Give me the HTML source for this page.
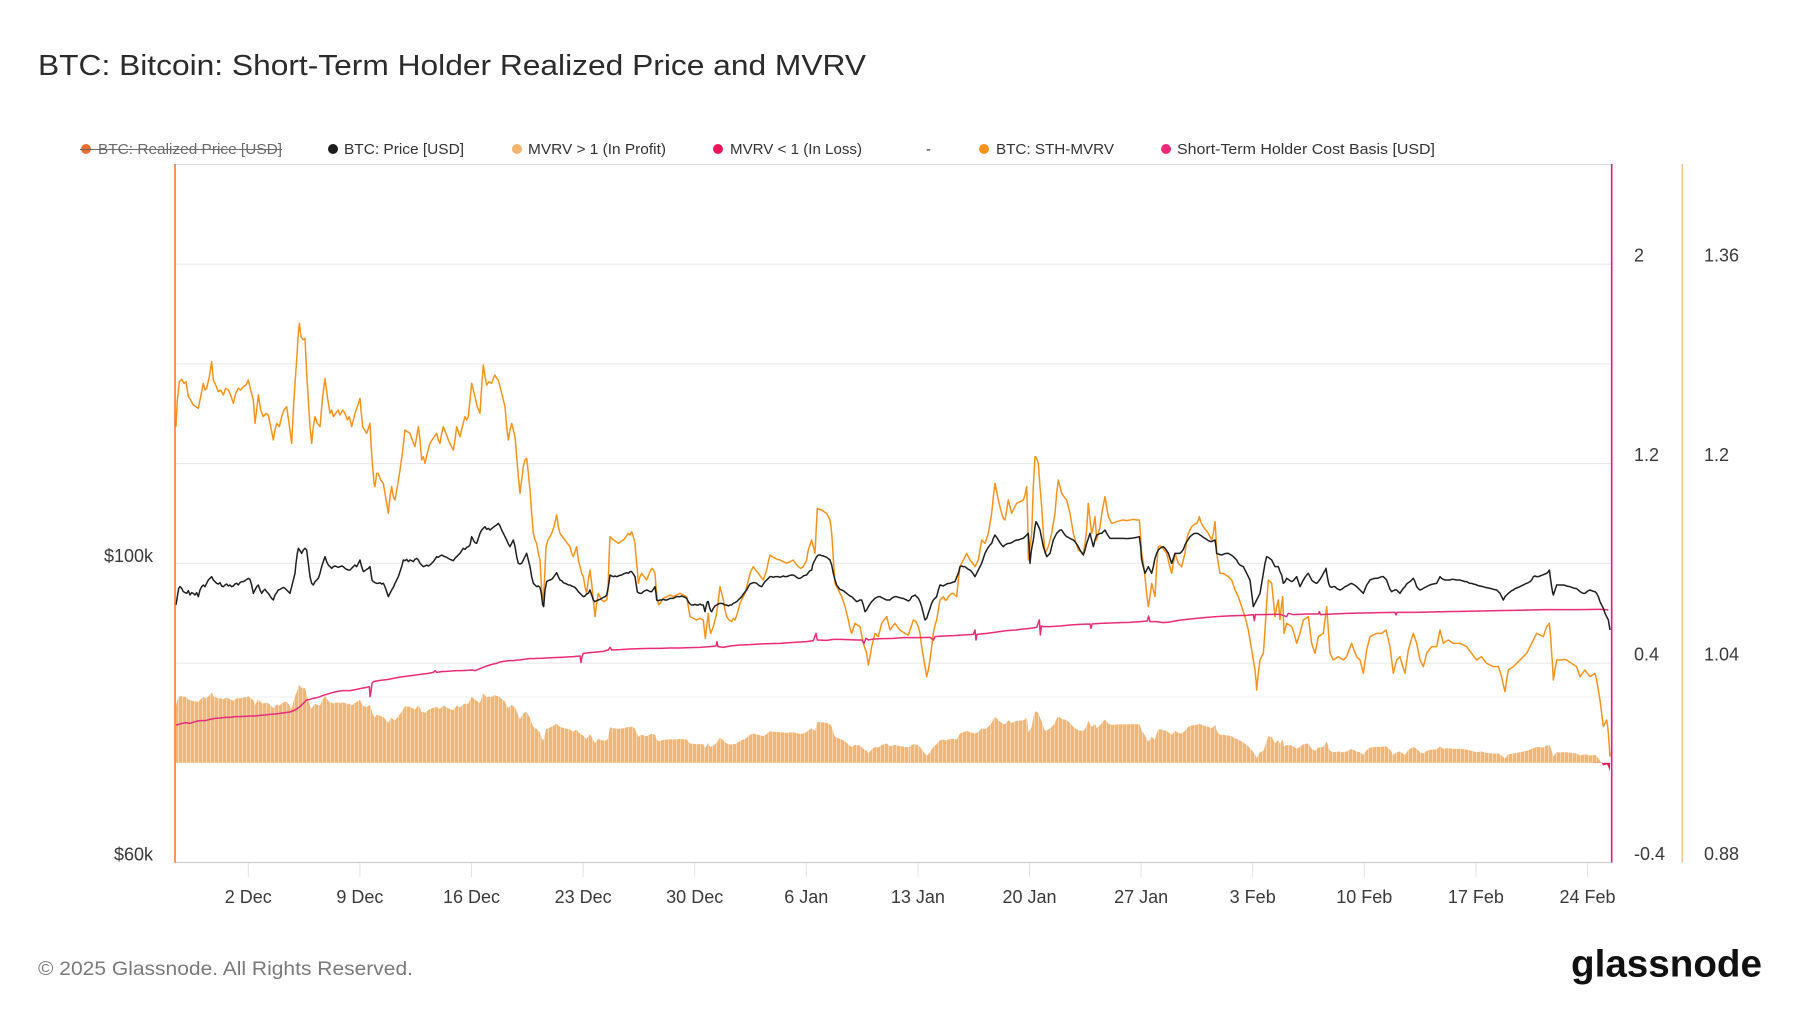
<!DOCTYPE html>
<html><head><meta charset="utf-8"><style>
html,body{margin:0;padding:0;background:#fff;}
svg{display:block;font-family:"Liberation Sans",Arial,sans-serif;}
</style></head><body>
<svg width="1800" height="1013" viewBox="0 0 1800 1013" xmlns="http://www.w3.org/2000/svg">
<defs>
<pattern id="bp" width="12" height="30" patternUnits="userSpaceOnUse"><rect width="12" height="30" fill="#f3b574"/><rect x="0" width="3" height="30" fill="#f8d6ae"/></pattern>
<clipPath id="above"><rect x="175" y="164" width="1437" height="598.8"/></clipPath>
<clipPath id="below"><rect x="175" y="762.8" width="1437" height="100"/></clipPath>
</defs>
<rect width="1800" height="1013" fill="#fff"/>

<text x="38" y="75" font-size="29" fill="#2b2b2b" textLength="828" lengthAdjust="spacingAndGlyphs">BTC: Bitcoin: Short-Term Holder Realized Price and MVRV</text>

<!-- legend -->
<g font-size="14.5" fill="#333">
<circle cx="86" cy="149" r="5" fill="#ee6e30"/>
<text x="98" y="154" fill="#6b6b6b" textLength="184" lengthAdjust="spacingAndGlyphs">BTC: Realized Price [USD]</text>
<line x1="80" y1="149.5" x2="282" y2="149.5" stroke="#6b6b6b" stroke-width="1"/>
<circle cx="333" cy="149" r="5" fill="#1c1c1c"/>
<text x="344" y="154" textLength="120" lengthAdjust="spacingAndGlyphs">BTC: Price [USD]</text>
<circle cx="517" cy="149" r="5" fill="#f2b46e"/>
<text x="528" y="154" textLength="138" lengthAdjust="spacingAndGlyphs">MVRV &gt; 1 (In Profit)</text>
<circle cx="718" cy="149" r="5" fill="#f0145a"/>
<text x="730" y="154" textLength="132" lengthAdjust="spacingAndGlyphs">MVRV &lt; 1 (In Loss)</text>
<text x="926" y="154">-</text>
<circle cx="984" cy="149" r="5" fill="#f7931a"/>
<text x="996" y="154" textLength="118" lengthAdjust="spacingAndGlyphs">BTC: STH-MVRV</text>
<circle cx="1166" cy="149" r="5" fill="#f0287a"/>
<text x="1177" y="154" textLength="258" lengthAdjust="spacingAndGlyphs">Short-Term Holder Cost Basis [USD]</text>
</g>

<!-- grid -->
<g stroke="#e6e6e6" stroke-width="1">
<line x1="175" y1="164.5" x2="1612" y2="164.5" stroke="#dcdcdc"/>
<line x1="175" y1="264.2" x2="1612" y2="264.2"/>
<line x1="175" y1="363.9" x2="1612" y2="363.9"/>
<line x1="175" y1="463.6" x2="1612" y2="463.6"/>
<line x1="175" y1="563.3" x2="1612" y2="563.3"/>
<line x1="175" y1="663.1" x2="1612" y2="663.1"/>
<line x1="175" y1="697" x2="1612" y2="697" stroke="#ececec"/>
<line x1="175" y1="762.8" x2="1612" y2="762.8"/>
</g>

<!-- bars -->
<g clip-path="url(#above)" fill="url(#bp)">
<polygon transform="translate(170,680.22) scale(0.333333,0.0666667)" points="18,380 22,300 28,245 35,238 42,250 48,245 55,290 62,300 70,315 78,320 85,325 92,290 100,250 105,270 110,265 118,230 125,185 130,240 137,255 145,275 152,270 160,285 167,265 175,270 182,285 190,310 197,280 205,265 212,270 220,260 228,255 235,240 242,270 250,300 255,370 260,330 265,285 272,330 280,350 288,340 295,345 302,380 310,420 315,390 320,370 328,380 335,350 342,330 350,320 357,370 365,430 370,330 375,250 380,180 385,100 388,70 393,110 400,120 405,115 410,220 415,300 420,380 425,430 430,380 435,350 442,370 450,380 457,300 465,235 472,290 480,340 485,330 490,350 497,340 505,330 510,345 518,330 525,340 532,360 538,350 545,380 550,360 555,340 562,320 570,295 574,340 578,380 584,390 590,400 595,385 600,370 603,430 607,490 612,550 615,560 620,520 625,520 632,540 640,550 645,580 650,610 655,640 660,590 665,560 670,590 675,600 682,560 690,510 697,460 705,390 712,395 720,400 727,420 735,440 740,410 745,380 750,420 755,480 760,470 765,490 772,460 780,430 786,420 793,410 800,400 805,420 810,430 815,400 820,380 828,400 835,420 842,435 850,450 855,420 860,380 865,395 870,410 877,380 885,350 890,360 895,350 900,300 905,250 910,270 915,290 922,320 930,340 935,260 940,195 945,230 950,255 957,245 965,250 970,235 975,225 980,235 985,240 990,260 995,280 1000,300 1005,320 1010,380 1015,420 1020,390 1025,370 1030,390 1035,410 1040,470 1045,530 1050,580 1055,540 1060,500 1065,480 1070,475 1075,520 1080,570 1085,640 1090,700 1095,720 1100,730 1105,760 1110,780 1110,1239 18,1239"/>
<polygon transform="translate(540,680.22) scale(0.333333,0.0666667)" points="0,780 5,870 9,905 13,850 18,740 24,720 30,710 35,700 42,680 50,645 55,680 60,700 67,710 75,720 82,730 90,740 95,760 100,770 105,755 110,740 115,780 120,800 125,820 130,830 135,860 140,880 145,840 150,810 155,850 160,900 165,950 170,910 175,880 180,890 185,900 192,905 200,900 204,870 207,780 210,710 215,715 220,720 228,725 235,730 242,725 250,720 258,710 265,700 270,705 275,695 280,710 285,730 288,770 292,810 295,850 300,830 305,820 312,830 320,840 328,820 335,805 340,810 345,820 348,860 352,900 356,915 360,910 370,895 380,890 390,885 400,890 410,885 420,880 430,885 440,890 445,920 450,950 460,955 470,960 480,955 490,960 493,990 496,1015 500,980 505,940 508,980 512,1000 516,990 520,980 525,960 530,940 535,900 540,860 545,880 550,900 555,930 560,950 567,960 575,965 580,955 585,960 592,940 600,910 607,895 615,880 620,860 625,840 632,815 640,800 647,810 655,820 662,830 670,840 675,825 680,810 685,785 690,765 697,770 705,775 712,778 720,780 730,785 740,790 750,785 760,780 767,790 775,800 782,805 790,800 795,790 800,780 803,760 805,750 810,735 815,720 820,740 825,760 828,700 832,625 838,628 845,630 852,635 860,640 865,650 870,660 873,680 875,700 878,740 880,780 883,820 885,850 890,860 895,870 900,880 905,890 910,905 915,920 920,940 925,960 930,985 935,1000 940,985 945,970 952,975 960,980 965,1005 970,1030 975,1045 980,1060 983,1080 985,1095 990,1070 995,1040 1000,1020 1005,1000 1010,1005 1015,1010 1020,990 1025,970 1032,960 1040,950 1045,970 1050,990 1057,980 1065,970 1072,980 1080,990 1087,995 1095,1000 1100,1003 1105,1005 1110,990 1110,1239 0,1239"/>
<polygon transform="translate(910,680.22) scale(0.333333,0.0666667)" points="0,990 5,975 10,960 18,965 25,980 30,1000 35,1040 40,1070 45,1100 50,1130 55,1110 60,1080 65,1040 70,1000 75,975 80,960 85,930 90,900 95,895 100,890 105,900 110,900 115,890 120,885 125,880 130,880 135,885 140,890 145,840 150,800 155,790 160,780 165,770 170,760 175,770 180,780 188,790 195,800 200,790 205,780 210,750 215,720 220,725 225,730 230,715 235,700 240,670 245,640 250,590 255,550 260,575 265,600 270,620 275,640 280,655 285,660 290,630 295,600 300,620 305,640 312,625 320,610 330,605 340,600 345,585 350,560 353,650 355,780 360,740 365,700 370,560 375,470 380,475 385,490 390,560 395,620 400,700 405,760 410,750 415,740 420,720 425,700 430,670 435,640 440,580 445,540 450,560 455,580 462,590 470,600 475,620 480,640 485,670 490,700 497,725 505,750 512,755 520,760 525,730 530,690 533,640 535,610 540,660 545,700 550,680 555,650 558,690 560,720 565,700 570,680 577,630 585,590 590,620 595,650 600,660 605,670 612,668 620,665 630,662 640,660 650,662 660,660 670,658 680,660 688,660 692,710 695,760 700,790 705,830 710,880 715,920 720,890 725,850 730,870 735,890 740,800 745,740 750,738 755,740 762,750 770,760 777,790 785,820 790,790 795,760 800,775 805,790 810,795 815,800 820,780 825,760 830,720 835,700 840,690 845,680 850,676 855,672 860,670 865,660 868,650 872,665 880,680 887,690 895,700 900,710 905,720 910,700 915,665 918,710 920,760 925,790 930,820 935,820 940,820 947,825 955,830 960,835 965,840 970,855 975,870 980,880 985,890 990,905 995,920 1000,935 1005,950 1010,970 1015,990 1020,1020 1025,1050 1030,1080 1035,1110 1038,1140 1040,1170 1045,1120 1050,1080 1055,1070 1060,1060 1063,1020 1065,990 1070,910 1075,840 1080,845 1085,850 1090,900 1095,950 1100,920 1105,900 1110,960 1110,1239 0,1239"/>
<polygon transform="translate(1280,680.22) scale(0.333333,0.0666667)" points="0,960 4,920 8,890 12,1000 16,985 20,970 28,975 35,980 42,1000 50,1030 55,1015 60,1000 65,980 70,960 77,955 85,950 90,990 95,1030 100,1045 105,1060 110,1035 115,1010 122,1005 130,1000 135,960 140,920 145,990 150,1060 155,1070 160,1080 167,1075 175,1070 182,1075 190,1080 195,1075 200,1070 207,1050 215,1030 222,1050 230,1070 235,1075 240,1080 245,1100 250,1120 255,1085 260,1050 265,1030 270,1010 280,1005 290,1000 298,1000 305,1000 312,995 318,990 324,1015 330,1040 335,1080 340,1120 345,1100 350,1080 355,1075 360,1070 367,1095 375,1120 380,1085 385,1050 392,1025 400,1000 405,1015 410,1030 415,1055 420,1080 425,1090 430,1100 435,1080 440,1060 447,1050 455,1040 462,1040 470,1040 475,1015 480,990 485,1010 490,1030 497,1025 505,1020 512,1025 520,1030 530,1030 540,1030 550,1035 560,1040 567,1050 575,1060 582,1070 590,1080 597,1075 605,1070 612,1080 620,1090 630,1095 640,1100 647,1100 655,1100 660,1115 665,1130 670,1155 675,1175 680,1140 685,1110 692,1105 700,1100 705,1095 710,1090 715,1085 720,1080 730,1070 740,1060 750,1040 760,1020 765,1010 770,1000 780,1005 790,1010 795,995 800,980 805,975 808,970 812,1010 815,1060 818,1100 820,1140 825,1110 830,1080 837,1080 845,1080 852,1078 860,1080 867,1085 875,1090 882,1095 890,1100 895,1115 900,1130 907,1120 915,1110 922,1120 930,1130 937,1125 945,1120 950,1140 955,1170 960,1200 965,1240 968,1265 970,1280 975,1270 980,1260 983,1280 985,1300 988,1340 990,1370 990,1239 0,1239"/>
</g>
<g clip-path="url(#below)" fill="#f0145a">
<polygon transform="translate(1280,680.22) scale(0.333333,0.0666667)" points="940,1239 945,1120 950,1140 955,1170 960,1200 965,1240 968,1265 970,1280 975,1270 980,1260 983,1280 985,1300 988,1340 990,1370 990,1239"/>
</g>

<!-- orange STH-MVRV line -->
<g fill="none" stroke="#f7931a" stroke-width="1.5" stroke-linejoin="round">
<polyline vector-effect="non-scaling-stroke" transform="translate(170,300) scale(0.333333)" points="18,380 22,300 28,245 35,238 42,250 48,245 55,290 62,300 70,315 78,320 85,325 92,290 100,250 105,270 110,265 118,230 125,185 130,240 137,255 145,275 152,270 160,285 167,265 175,270 182,285 190,310 197,280 205,265 212,270 220,260 228,255 235,240 242,270 250,300 255,370 260,330 265,285 272,330 280,350 288,340 295,345 302,380 310,420 315,390 320,370 328,380 335,350 342,330 350,320 357,370 365,430 370,330 375,250 380,180 385,100 388,70 393,110 400,120 405,115 410,220 415,300 420,380 425,430 430,380 435,350 442,370 450,380 457,300 465,235 472,290 480,340 485,330 490,350 497,340 505,330 510,345 518,330 525,340 532,360 538,350 545,380 550,360 555,340 562,320 570,295 574,340 578,380 584,390 590,400 595,385 600,370 603,430 607,490 612,550 615,560 620,520 625,520 632,540 640,550 645,580 650,610 655,640 660,590 665,560 670,590 675,600 682,560 690,510 697,460 705,390 712,395 720,400 727,420 735,440 740,410 745,380 750,420 755,480 760,470 765,490 772,460 780,430 786,420 793,410 800,400 805,420 810,430 815,400 820,380 828,400 835,420 842,435 850,450 855,420 860,380 865,395 870,410 877,380 885,350 890,360 895,350 900,300 905,250 910,270 915,290 922,320 930,340 935,260 940,195 945,230 950,255 957,245 965,250 970,235 975,225 980,235 985,240 990,260 995,280 1000,300 1005,320 1010,380 1015,420 1020,390 1025,370 1030,390 1035,410 1040,470 1045,530 1050,580 1055,540 1060,500 1065,480 1070,475 1075,520 1080,570 1085,640 1090,700 1095,720 1100,730 1105,760 1110,780"/>
<polyline vector-effect="non-scaling-stroke" transform="translate(540,300) scale(0.333333)" points="0,780 5,870 9,905 13,850 18,740 24,720 30,710 35,700 42,680 50,645 55,680 60,700 67,710 75,720 82,730 90,740 95,760 100,770 105,755 110,740 115,780 120,800 125,820 130,830 135,860 140,880 145,840 150,810 155,850 160,900 165,950 170,910 175,880 180,890 185,900 192,905 200,900 204,870 207,780 210,710 215,715 220,720 228,725 235,730 242,725 250,720 258,710 265,700 270,705 275,695 280,710 285,730 288,770 292,810 295,850 300,830 305,820 312,830 320,840 328,820 335,805 340,810 345,820 348,860 352,900 356,915 360,910 370,895 380,890 390,885 400,890 410,885 420,880 430,885 440,890 445,920 450,950 460,955 470,960 480,955 490,960 493,990 496,1015 500,980 505,940 508,980 512,1000 516,990 520,980 525,960 530,940 535,900 540,860 545,880 550,900 555,930 560,950 567,960 575,965 580,955 585,960 592,940 600,910 607,895 615,880 620,860 625,840 632,815 640,800 647,810 655,820 662,830 670,840 675,825 680,810 685,785 690,765 697,770 705,775 712,778 720,780 730,785 740,790 750,785 760,780 767,790 775,800 782,805 790,800 795,790 800,780 803,760 805,750 810,735 815,720 820,740 825,760 828,700 832,625 838,628 845,630 852,635 860,640 865,650 870,660 873,680 875,700 878,740 880,780 883,820 885,850 890,860 895,870 900,880 905,890 910,905 915,920 920,940 925,960 930,985 935,1000 940,985 945,970 952,975 960,980 965,1005 970,1030 975,1045 980,1060 983,1080 985,1095 990,1070 995,1040 1000,1020 1005,1000 1010,1005 1015,1010 1020,990 1025,970 1032,960 1040,950 1045,970 1050,990 1057,980 1065,970 1072,980 1080,990 1087,995 1095,1000 1100,1003 1105,1005 1110,990"/>
<polyline vector-effect="non-scaling-stroke" transform="translate(910,300) scale(0.333333)" points="0,990 5,975 10,960 18,965 25,980 30,1000 35,1040 40,1070 45,1100 50,1130 55,1110 60,1080 65,1040 70,1000 75,975 80,960 85,930 90,900 95,895 100,890 105,900 110,900 115,890 120,885 125,880 130,880 135,885 140,890 145,840 150,800 155,790 160,780 165,770 170,760 175,770 180,780 188,790 195,800 200,790 205,780 210,750 215,720 220,725 225,730 230,715 235,700 240,670 245,640 250,590 255,550 260,575 265,600 270,620 275,640 280,655 285,660 290,630 295,600 300,620 305,640 312,625 320,610 330,605 340,600 345,585 350,560 353,650 355,780 360,740 365,700 370,560 375,470 380,475 385,490 390,560 395,620 400,700 405,760 410,750 415,740 420,720 425,700 430,670 435,640 440,580 445,540 450,560 455,580 462,590 470,600 475,620 480,640 485,670 490,700 497,725 505,750 512,755 520,760 525,730 530,690 533,640 535,610 540,660 545,700 550,680 555,650 558,690 560,720 565,700 570,680 577,630 585,590 590,620 595,650 600,660 605,670 612,668 620,665 630,662 640,660 650,662 660,660 670,658 680,660 688,660 692,710 695,760 700,790 705,830 710,880 715,920 720,890 725,850 730,870 735,890 740,800 745,740 750,738 755,740 762,750 770,760 777,790 785,820 790,790 795,760 800,775 805,790 810,795 815,800 820,780 825,760 830,720 835,700 840,690 845,680 850,676 855,672 860,670 865,660 868,650 872,665 880,680 887,690 895,700 900,710 905,720 910,700 915,665 918,710 920,760 925,790 930,820 935,820 940,820 947,825 955,830 960,835 965,840 970,855 975,870 980,880 985,890 990,905 995,920 1000,935 1005,950 1010,970 1015,990 1020,1020 1025,1050 1030,1080 1035,1110 1038,1140 1040,1170 1045,1120 1050,1080 1055,1070 1060,1060 1063,1020 1065,990 1070,910 1075,840 1080,845 1085,850 1090,900 1095,950 1100,920 1105,900 1110,960"/>
<polyline vector-effect="non-scaling-stroke" transform="translate(1280,300) scale(0.333333)" points="0,960 4,920 8,890 12,1000 16,985 20,970 28,975 35,980 42,1000 50,1030 55,1015 60,1000 65,980 70,960 77,955 85,950 90,990 95,1030 100,1045 105,1060 110,1035 115,1010 122,1005 130,1000 135,960 140,920 145,990 150,1060 155,1070 160,1080 167,1075 175,1070 182,1075 190,1080 195,1075 200,1070 207,1050 215,1030 222,1050 230,1070 235,1075 240,1080 245,1100 250,1120 255,1085 260,1050 265,1030 270,1010 280,1005 290,1000 298,1000 305,1000 312,995 318,990 324,1015 330,1040 335,1080 340,1120 345,1100 350,1080 355,1075 360,1070 367,1095 375,1120 380,1085 385,1050 392,1025 400,1000 405,1015 410,1030 415,1055 420,1080 425,1090 430,1100 435,1080 440,1060 447,1050 455,1040 462,1040 470,1040 475,1015 480,990 485,1010 490,1030 497,1025 505,1020 512,1025 520,1030 530,1030 540,1030 550,1035 560,1040 567,1050 575,1060 582,1070 590,1080 597,1075 605,1070 612,1080 620,1090 630,1095 640,1100 647,1100 655,1100 660,1115 665,1130 670,1155 675,1175 680,1140 685,1110 692,1105 700,1100 705,1095 710,1090 715,1085 720,1080 730,1070 740,1060 750,1040 760,1020 765,1010 770,1000 780,1005 790,1010 795,995 800,980 805,975 808,970 812,1010 815,1060 818,1100 820,1140 825,1110 830,1080 837,1080 845,1080 852,1078 860,1080 867,1085 875,1090 882,1095 890,1100 895,1115 900,1130 907,1120 915,1110 922,1120 930,1130 937,1125 945,1120 950,1140 955,1170 960,1200 965,1240 968,1265 970,1280 975,1270 980,1260 983,1280 985,1300 988,1340 990,1370"/>
</g>

<!-- pink cost basis line -->
<g fill="none" stroke="#ec2a78" stroke-width="1.5" stroke-linejoin="round">
<polyline vector-effect="non-scaling-stroke" transform="translate(170,300) scale(0.333333)" points="18,1275 30,1272 45,1268 60,1270 75,1265 90,1262 105,1262 120,1258 135,1255 150,1254 165,1252 180,1252 195,1250 210,1250 225,1249 240,1248 255,1248 270,1246 285,1245 300,1243 315,1242 330,1240 345,1238 360,1236 375,1230 390,1220 400,1210 410,1200 420,1198 430,1195 440,1193 450,1190 460,1186 470,1183 480,1180 490,1177 500,1175 510,1173 520,1172 530,1172 540,1172 550,1170 560,1168 570,1166 580,1164 590,1162 598,1160 600,1190 603,1175 606,1150 610,1145 625,1142 640,1140 655,1138 670,1135 685,1132 700,1130 715,1128 730,1126 745,1124 760,1122 775,1120 790,1117 795,1112 800,1117 815,1115 830,1114 845,1113 860,1112 875,1112 890,1111 905,1110 915,1112 925,1108 940,1102 950,1098 960,1095 970,1092 980,1090 990,1086 1000,1084 1010,1083 1020,1082 1030,1082 1040,1080 1050,1080 1060,1078 1070,1077 1080,1076 1090,1076 1100,1075 1110,1075"/>
<polyline vector-effect="non-scaling-stroke" transform="translate(540,300) scale(0.333333)" points="0,1075 20,1074 40,1073 60,1072 80,1071 100,1070 120,1068 123,1088 126,1070 130,1060 150,1058 170,1056 190,1054 205,1050 210,1042 215,1050 240,1049 270,1047 300,1046 330,1045 360,1045 390,1044 420,1044 450,1043 480,1042 510,1040 528,1038 531,1025 534,1040 550,1042 570,1038 600,1035 630,1034 660,1032 690,1031 720,1030 750,1028 780,1026 800,1025 820,1022 828,1000 832,1020 860,1021 880,1018 900,1018 920,1019 950,1020 965,1020 972,1030 978,1015 985,1020 1000,1017 1030,1016 1060,1015 1090,1013 1110,1013"/>
<polyline vector-effect="non-scaling-stroke" transform="translate(910,300) scale(0.333333)" points="0,1013 30,1013 60,1012 70,1020 75,1010 100,1008 130,1007 160,1005 190,1003 195,990 198,1020 201,1003 230,1000 260,996 290,992 320,990 330,988 360,985 380,982 388,960 391,1005 394,978 400,980 420,980 450,978 480,975 510,973 540,972 543,985 546,972 570,970 600,969 630,968 660,967 690,965 712,963 716,948 720,965 740,965 760,968 780,966 800,962 830,958 860,955 890,952 920,950 950,948 980,947 1010,946 1030,944 1033,962 1036,944 1060,944 1090,943 1110,943"/>
<polyline vector-effect="non-scaling-stroke" transform="translate(1280,300) scale(0.333333)" points="0,943 20,950 25,940 40,944 80,942 115,942 118,935 121,944 160,942 200,940 250,939 300,938 345,937 348,945 351,937 400,937 450,936 500,935 550,934 600,933 650,932 700,931 750,930 800,929 850,929 900,929 950,928 970,928 985,930"/>
</g>

<!-- black price line -->
<g fill="none" stroke="#1f1f1f" stroke-width="1.5" stroke-linejoin="round">
<polyline vector-effect="non-scaling-stroke" transform="translate(170,300) scale(0.333333)" points="18,915 22,890 26,865 30,860 35,865 40,875 45,878 50,880 55,872 60,885 65,878 70,880 75,885 80,878 85,890 90,870 95,860 100,855 105,860 110,850 115,840 120,835 125,830 130,840 135,845 140,850 145,852 150,848 155,858 160,860 165,855 170,852 175,858 180,855 185,860 190,858 195,852 200,850 205,855 210,848 215,845 220,845 225,842 230,838 235,835 240,838 245,855 250,880 255,870 260,860 265,855 270,870 275,880 280,872 285,868 290,875 295,880 300,888 305,895 310,900 315,885 320,878 325,870 330,868 335,865 340,862 345,865 350,870 355,875 360,880 365,860 370,840 375,820 378,790 382,760 385,745 390,752 395,760 400,750 405,745 410,750 415,790 420,830 425,850 430,855 435,845 440,840 445,835 450,820 455,800 460,785 465,770 470,785 475,795 480,800 485,805 490,800 495,798 500,800 505,802 510,800 515,798 520,800 525,805 530,808 535,810 540,810 545,805 550,800 555,795 560,800 565,790 570,780 575,800 580,815 585,812 590,808 595,805 600,800 603,820 606,840 610,845 615,848 620,850 625,850 630,848 635,852 640,850 645,860 650,875 655,890 660,880 665,870 670,862 675,850 680,840 685,830 690,815 695,800 700,780 705,782 710,778 715,785 720,780 725,782 730,785 735,778 740,775 745,780 750,790 755,795 760,800 765,798 770,795 775,798 780,795 785,790 790,785 795,778 800,770 805,772 810,768 815,765 820,768 825,770 830,772 835,775 840,778 845,780 850,782 855,775 860,770 865,765 870,760 875,752 880,745 885,748 890,742 895,740 900,735 905,710 910,720 915,728 920,730 925,715 930,700 935,690 940,685 945,680 950,688 955,685 960,690 965,686 970,682 975,678 980,675 985,670 990,678 995,690 1000,700 1005,710 1010,720 1015,732 1020,740 1025,730 1030,720 1035,740 1040,770 1045,790 1050,792 1055,790 1060,780 1065,770 1070,760 1075,780 1080,800 1085,830 1090,850 1095,855 1100,860 1105,858 1110,862"/>
<polyline vector-effect="non-scaling-stroke" transform="translate(540,300) scale(0.333333)" points="0,862 4,880 8,915 11,920 15,870 20,845 25,842 30,840 35,838 40,832 45,825 50,818 55,830 60,840 65,842 70,848 75,850 80,852 85,855 90,855 95,858 100,860 105,862 110,868 115,875 120,880 125,885 130,890 135,888 140,882 145,880 150,870 155,885 160,900 165,905 170,902 175,900 180,898 185,895 190,892 195,890 200,885 205,860 208,840 210,825 215,828 220,830 225,828 230,830 235,828 240,826 245,825 250,822 255,820 260,818 265,820 270,815 275,815 280,822 285,830 288,850 292,875 295,878 300,880 305,880 310,875 315,872 320,870 325,872 330,875 335,875 340,868 345,860 348,880 350,900 355,902 360,900 365,900 370,898 375,900 380,900 385,898 390,895 395,895 400,895 405,892 410,890 415,890 420,890 425,888 430,890 435,892 440,895 445,905 450,912 455,915 460,915 465,913 470,915 475,915 480,912 485,915 490,915 493,928 495,935 498,920 502,905 505,905 508,920 512,932 515,935 520,925 525,918 530,915 535,912 540,910 545,910 550,912 555,915 560,915 565,918 570,915 575,915 580,910 585,908 590,905 595,900 600,895 605,890 610,882 615,876 620,870 625,860 630,852 635,850 640,848 645,848 650,850 655,855 660,858 665,860 670,852 675,845 680,840 685,835 690,830 695,830 700,832 705,830 710,830 715,830 720,832 725,830 730,828 735,830 740,830 745,828 750,826 755,825 760,825 765,828 770,832 775,835 780,835 785,832 790,828 795,826 800,825 805,818 810,812 815,810 818,795 822,785 825,780 830,770 835,765 840,765 845,767 850,768 855,770 860,772 865,776 870,780 875,795 880,820 885,840 890,855 895,862 900,868 905,870 910,872 915,876 920,880 925,884 930,888 935,890 940,895 945,900 950,905 955,903 960,900 965,900 970,915 975,935 980,930 985,920 990,912 995,905 1000,900 1005,895 1010,892 1015,890 1020,890 1025,893 1030,895 1035,898 1040,900 1045,900 1050,900 1055,895 1060,892 1065,890 1070,890 1075,892 1080,893 1085,895 1090,895 1095,898 1100,900 1105,903 1110,900"/>
<polyline vector-effect="non-scaling-stroke" transform="translate(910,300) scale(0.333333)" points="0,900 5,890 10,888 15,885 20,890 25,895 30,905 35,920 40,940 45,960 50,955 55,940 60,925 65,910 70,900 75,895 80,890 85,870 90,855 95,856 100,858 105,855 110,852 115,850 120,850 125,848 130,846 135,845 140,832 145,820 150,800 155,798 160,800 165,800 170,804 175,808 180,810 185,815 190,822 195,830 200,820 205,810 210,800 215,790 220,775 225,760 230,750 235,742 240,735 245,730 250,715 255,705 260,712 265,720 270,728 275,735 280,740 285,735 290,732 295,730 300,730 305,728 310,725 315,722 320,720 325,720 330,718 335,716 340,715 345,710 350,705 355,700 358,750 360,790 363,760 366,740 370,720 375,680 378,665 382,672 386,680 390,690 395,715 400,740 405,755 410,770 415,765 420,760 425,740 430,720 435,710 440,700 445,695 450,690 455,690 460,698 465,705 470,710 475,712 480,715 485,718 490,720 495,725 500,732 505,740 510,750 515,758 520,765 525,750 530,730 535,715 540,700 545,720 550,740 555,720 560,705 565,703 570,700 575,700 580,695 585,690 590,700 595,708 600,715 605,715 610,715 620,715 630,715 640,715 650,716 660,715 670,714 680,712 688,710 692,740 695,780 700,800 705,820 710,810 715,800 720,810 725,820 730,800 735,775 740,760 745,750 750,745 755,742 760,740 765,745 770,752 775,760 780,775 785,790 790,775 795,760 800,760 805,760 810,760 815,755 820,748 825,735 830,725 835,718 840,710 845,706 850,702 855,700 860,700 865,701 870,705 875,708 880,712 885,715 890,718 895,722 900,724 905,725 910,722 915,720 918,740 920,760 925,762 930,764 935,765 940,763 945,761 950,760 955,760 960,763 965,766 970,770 975,775 980,780 985,790 990,795 995,798 1000,800 1005,810 1010,820 1015,830 1020,840 1025,880 1030,920 1035,910 1040,900 1045,890 1050,880 1055,850 1060,820 1065,790 1070,770 1075,772 1080,776 1085,780 1090,790 1095,800 1100,800 1105,800 1110,815"/>
<polyline vector-effect="non-scaling-stroke" transform="translate(1280,300) scale(0.333333)" points="0,815 5,825 10,850 15,845 20,835 25,838 30,842 35,845 40,842 45,836 50,830 55,845 60,860 65,850 70,840 75,832 80,825 85,820 90,830 95,840 100,845 105,848 110,850 115,845 120,838 125,830 130,820 135,812 138,805 142,830 146,850 150,860 155,862 160,860 165,860 170,865 175,868 180,870 185,868 190,864 195,860 200,858 205,855 210,852 215,850 220,853 225,856 230,860 235,865 240,870 245,875 250,880 255,868 260,855 265,848 270,840 275,838 280,836 285,835 290,835 295,834 300,832 305,830 310,830 315,835 320,840 325,855 330,868 335,875 340,872 345,870 350,870 355,875 360,880 365,872 370,865 375,860 380,852 385,848 390,845 395,840 400,835 405,845 410,860 415,866 420,870 425,868 430,865 435,862 440,860 445,857 450,855 455,853 460,852 465,851 470,850 475,840 480,830 485,835 490,838 495,840 500,840 505,840 510,840 515,838 520,838 525,839 530,840 535,840 540,840 545,842 550,843 555,845 560,845 565,848 570,850 575,850 580,852 585,853 590,855 595,857 600,858 605,859 610,860 615,862 620,863 625,864 630,865 635,866 640,868 645,869 650,870 655,875 660,880 665,890 670,900 675,890 680,885 685,880 690,876 695,872 700,870 705,866 710,864 715,862 720,860 725,857 730,855 735,852 740,850 745,848 750,845 755,840 760,830 765,828 770,830 775,830 780,828 785,826 790,824 795,822 800,820 805,815 808,810 812,840 815,860 818,878 820,885 825,870 830,855 835,855 840,855 845,855 850,855 855,856 860,858 865,859 870,860 875,862 880,864 885,865 890,866 895,870 900,875 905,878 910,880 915,880 920,876 925,872 930,870 935,872 940,874 945,875 950,880 955,890 960,905 965,915 970,925 975,940 980,950 985,960 990,990"/>
</g>

<!-- axes -->
<line x1="175" y1="862.5" x2="1612" y2="862.5" stroke="#cfcfcf" stroke-width="1.2"/>
<line x1="175" y1="164" x2="175" y2="862.5" stroke="#f07a3a" stroke-width="1.6"/>
<line x1="1611.7" y1="164" x2="1611.7" y2="862.5" stroke="#e8177e" stroke-width="1.6"/>
<line x1="1682.3" y1="164" x2="1682.3" y2="862.5" stroke="#f2c993" stroke-width="1.6"/>
<g stroke="#e2e2e2" stroke-width="1">
<line x1="248.3" y1="863" x2="248.3" y2="877"/>
<line x1="359.9" y1="863" x2="359.9" y2="877"/>
<line x1="471.5" y1="863" x2="471.5" y2="877"/>
<line x1="583.1" y1="863" x2="583.1" y2="877"/>
<line x1="694.7" y1="863" x2="694.7" y2="877"/>
<line x1="806.3" y1="863" x2="806.3" y2="877"/>
<line x1="917.9" y1="863" x2="917.9" y2="877"/>
<line x1="1029.5" y1="863" x2="1029.5" y2="877"/>
<line x1="1141.1" y1="863" x2="1141.1" y2="877"/>
<line x1="1252.7" y1="863" x2="1252.7" y2="877"/>
<line x1="1364.3" y1="863" x2="1364.3" y2="877"/>
<line x1="1475.9" y1="863" x2="1475.9" y2="877"/>
<line x1="1587.5" y1="863" x2="1587.5" y2="877"/>
</g>

<!-- axis labels -->
<g font-size="18" fill="#3a3a3a">
<text x="153" y="562" text-anchor="end">$100k</text>
<text x="153" y="860.5" text-anchor="end">$60k</text>
<text x="1634" y="261.5">2</text>
<text x="1634" y="461">1.2</text>
<text x="1634" y="660.5">0.4</text>
<text x="1634" y="860">-0.4</text>
<text x="1704" y="261.5">1.36</text>
<text x="1704" y="461">1.2</text>
<text x="1704" y="660.5">1.04</text>
<text x="1704" y="860">0.88</text>
</g>
<g font-size="18" fill="#3a3a3a" text-anchor="middle">
<text x="248.3" y="903">2 Dec</text>
<text x="359.9" y="903">9 Dec</text>
<text x="471.5" y="903">16 Dec</text>
<text x="583.1" y="903">23 Dec</text>
<text x="694.7" y="903">30 Dec</text>
<text x="806.3" y="903">6 Jan</text>
<text x="917.9" y="903">13 Jan</text>
<text x="1029.5" y="903">20 Jan</text>
<text x="1141.1" y="903">27 Jan</text>
<text x="1252.7" y="903">3 Feb</text>
<text x="1364.3" y="903">10 Feb</text>
<text x="1475.9" y="903">17 Feb</text>
<text x="1587.5" y="903">24 Feb</text>
</g>

<!-- footer -->
<text x="38" y="975" font-size="19.5" fill="#7a7a7a" textLength="375" lengthAdjust="spacingAndGlyphs">© 2025 Glassnode. All Rights Reserved.</text>
<text x="1571" y="976.5" font-size="38" font-weight="bold" fill="#111" textLength="191" lengthAdjust="spacingAndGlyphs">glassnode</text>
</svg>
</body></html>
